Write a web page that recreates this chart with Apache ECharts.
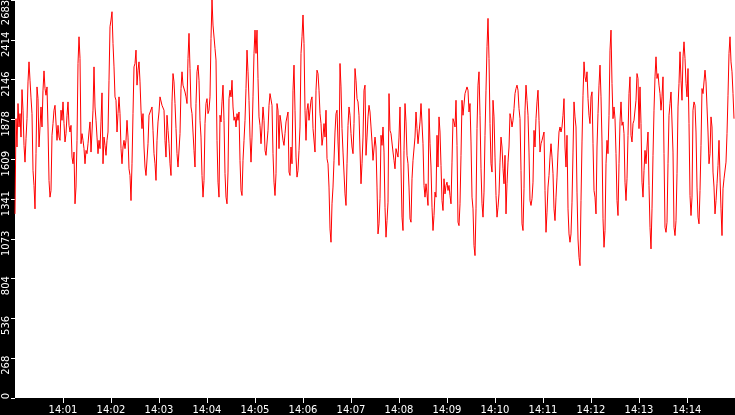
<!DOCTYPE html>
<html><head><meta charset="utf-8">
<script src="https://cdn.jsdelivr.net/npm/echarts@6/dist/echarts.min.js"></script>
<style>html,body{margin:0;padding:0;background:#000;overflow:hidden;}#c{width:735px;height:415px;}</style>
</head><body><div id="c"></div>
<script>
// time window and sampling (one sample every 1.25 s)
const startClock = [14, 0, 0];
const windowMinutes = 15;
const sampleStepMs = 1250;

const xTickLabels = ['14:01','14:02','14:03','14:04','14:05','14:06','14:07','14:08','14:09','14:10','14:11','14:12','14:13','14:14'];
const yTickLabels = ['0','268','536','804','1073','1341','1609','1878','2146','2414','2683'];
const yMax = 2683;

// 14:00:00 - 14:02:30
const values1400 = [
1241,1883,1692,1985,1827,1917,1759,2079,1940,1703,
1590,1748,1883,2131,2266,2142,2023,1917,1534,1433,
1275,1647,2097,2018,1692,1827,1962,1827,2075,2205,
2086,2041,2097,1827,1467,1354,1399,1771,1850,1940,
1973,1985,1737,1838,1759,1737,1940,1872,1996,1850,
1726,1782,1906,1996,1838,1793,1838,1624,1579,1658,
1309,1422,1737,2255,2435,2289,1714,1782,1737,1681,
1579,1669,1647,1714,1793,1861,1658,1793,1940,2232,
1962,1872,1759,1647,1737,1681,1861,2057,1579,1759,
1703,1636,1737,1793,2142,2503,2548,2604,2390,2232,
2030,2007,1793,1917,2030,1917,1681,1579,1692,1737,
1681,1737,1872,1759,1545,1500,1331,1579,1917,2232];
// 14:02:30 - 14:05:00
const values1402 = [
2255,2345,2109,2210,2266,2131,1940,1816,1917,1692,
1557,1500,1500,1714,1906,1917,1895,1962,1804,1647,
1579,1467,1737,1861,1928,2030,2041,1973,1985,1940,
1737,1624,1906,1804,1714,1579,1500,1996,2187,2131,
1985,1816,1647,1557,1568,1782,2086,2199,2109,2097,
2063,2030,1985,2289,2458,2221,1962,1917,1793,1669,
1557,1985,2199,2244,2142,1872,1759,1500,1354,1467,
1850,1985,2018,1917,1940,2030,2424,2683,2514,2525,
2356,2278,1737,1455,1354,1906,1861,1996,2109,1872,
1512,1354,1309,1523,2018,2075,2030,2142,1962,1872,
1895,1827,1917,1872,1928,1602,1399,1365,1602,1737,
1872,2086,2345,2199,2007,1759,1590,1759,2030,2323];
// 14:05:00 - 14:07:30
const values1405 = [
2480,2323,2480,2154,1895,1838,1714,1827,1962,1872,
1669,1636,1624,1804,1973,2052,2041,1973,1647,1455,
1365,1512,1985,1940,1681,1906,1861,1793,1737,1703,
1782,1861,1850,1928,1523,1500,1692,1579,2075,2244,
1940,1624,1489,1534,1669,1827,2323,2435,2582,2390,
1940,1737,1940,1985,1872,1883,2007,2030,1816,1804,
1658,2075,2210,2187,2075,1917,1850,1703,1759,1850,
1759,1940,1613,1579,1422,1140,1050,1309,1422,1602,
1793,1917,1940,1726,1568,2255,2097,1816,1658,1658,
1376,1298,1579,1838,1962,1906,1782,1692,1647,1850,
2221,2142,2018,1996,1906,1906,1444,1579,1759,2075,
2109,1636,1759,1895,1973,1928,1827,1726,1602,1590];
// 14:07:30 - 14:10:00
const values1407 = [
1759,1692,1422,1106,1174,1343,1771,1703,1827,1658,
1286,1084,1196,1320,2052,1804,1782,1782,1658,1602,
1545,1681,1692,1624,1759,1962,1557,1219,1129,1669,
1985,1861,1636,1579,1422,1208,1185,1478,1602,1590,
1759,1928,1816,1714,1703,1861,1985,1973,1714,1433,
1354,1444,1376,1298,1951,1714,1557,1286,1129,1230,
1388,1354,1771,1557,1895,1793,1568,1331,1264,1478,
1376,1433,1455,1399,1433,1365,1309,1590,1883,1861,
1827,2007,1703,1185,1162,1309,1636,2007,1906,1917,
2052,2064,2097,2075,1928,1985,1726,1354,1275,1027,
960,1275,1816,2109,2199,1906,1545,1309,1219,1388,
1771,2075,2368,2559,2289,1850,1579,1523,2007,1895];
// 14:10:00 - 14:12:30
const values1410 = [
1624,1365,1219,1286,1376,1590,1759,1692,1545,1444,
1636,1241,1444,1590,1692,1917,1883,1827,1872,1951,
2052,2086,2109,2075,1951,1883,1534,1174,1129,1410,
1940,2109,2007,1906,1658,1331,1298,1343,1455,1804,
1692,1883,1996,2075,1872,1658,1714,1737,1748,1793,
1399,1117,1253,1422,1500,1624,1714,1624,1512,1275,
1196,1354,1489,1658,1793,1827,1793,1827,1906,2018,
1692,1557,1771,1275,1106,1050,1106,1320,1658,1996,
1895,1827,1388,1072,948,892,1331,1726,2041,2266,
2165,2131,2199,2018,1906,1850,2030,2064,1714,1399,
1354,1241,1692,1917,2109,2244,2030,1726,1208,1016,
1129,1579,1737,1647,1906,2345,2480,2120,1883,1962];
// 14:12:30 - 14:15:00
const values1412 = [
1883,1647,1331,1230,1579,1861,1996,1838,1861,1782,
1455,1331,1478,1771,2052,2165,1771,1726,1850,1872,
1861,2007,2187,2154,1816,2097,1850,1455,1354,1534,
1669,1579,1692,1793,1433,1151,1005,1275,1636,1940,
2165,2300,2154,2187,2109,2052,1940,2030,2165,1647,
1151,1117,1185,1579,1906,1985,2063,2063,1658,1151,
1095,1196,1512,1962,2120,2334,2142,2007,2300,2401,
2289,2120,2030,2221,1850,1365,1230,1354,1940,1996,
1973,1793,1422,1219,1174,1399,1703,2086,2052,2063,
2210,2131,1962,1793,1579,1647,1895,1827,1523,1422,
1241,1331,1444,1568,1737,1489,1275,1095,1410,1478,
1489,1590,1782,2041,2323,2435,2266,2199,2052,1883];

const allValues = [].concat(values1400, values1402, values1405, values1407, values1410, values1412);
const t0 = new Date(2024, 0, 1, startClock[0], startClock[1], startClock[2]).getTime();
const seriesData = allValues.map((v, i) => [t0 + i * sampleStepMs, v]);
const tickTimes = xTickLabels.map(s => {
  const p = s.split(':');
  return new Date(2024, 0, 1, +p[0], +p[1], 0).getTime();
});

const chart = echarts.init(document.getElementById('c'), null, {renderer: 'canvas'});
const FONT = 'DejaVu Sans';
chart.setOption({
  animation: false,
  backgroundColor: '#000',
  grid: {left: 15, right: 0, top: 0, bottom: 17, show: true, backgroundColor: '#fff', borderWidth: 0,
         containLabel: false, outerBoundsMode: 'none'},
  xAxis: {
    type: 'value',
    min: t0,
    max: t0 + windowMinutes * 60000,
    offset: 2,
    axisLine: {show: false},
    splitLine: {show: false},
    axisTick: {show: true, length: 5, customValues: tickTimes, lineStyle: {color: '#fff', width: 1}},
    axisLabel: {
      customValues: tickTimes,
      color: '#fff', fontSize: 10, fontFamily: FONT, margin: 5,
      formatter: (v) => {
        const i = tickTimes.indexOf(v);
        return i >= 0 ? xTickLabels[i] : '';
      }
    }
  },
  yAxis: {
    type: 'value',
    min: 0, max: yMax, interval: yMax / 10,
    axisLine: {show: false},
    splitLine: {show: false},
    axisTick: {show: true, length: 4, lineStyle: {color: '#fff', width: 1}},
    axisLabel: {
      rotate: 90, margin: 4, color: '#fff', fontSize: 10, fontFamily: FONT,
      hideOverlap: false,
      formatter: (v) => {
        const k = Math.round(v / (yMax / 10));
        const t = yTickLabels[k];
        if (k === 10) return '{top|' + t + '}';
        if (k === 0) return '{zero|' + t + '}';
        return (t.length >= 4 ? '{n4|' : '{n3|') + t + '}';
      },
      rich: {
        top: {color: '#fff', fontSize: 10, fontFamily: FONT, padding: [0, 25, 0, 0]},
        zero: {color: '#fff', fontSize: 10, fontFamily: FONT, padding: [0, 0, 0, 4]},
        n4: {color: '#fff', fontSize: 10, fontFamily: FONT, padding: [0, 9, 0, 0]},
        n3: {color: '#fff', fontSize: 10, fontFamily: FONT, padding: [0, 14, 0, 0]}
      }
    }
  },
  series: [{
    type: 'line',
    data: seriesData,
    showSymbol: false,
    symbol: 'none',
    lineStyle: {color: '#ff0000', width: 1},
    itemStyle: {color: '#ff0000'},
    clip: true
  }]
});
</script>
</body></html>
